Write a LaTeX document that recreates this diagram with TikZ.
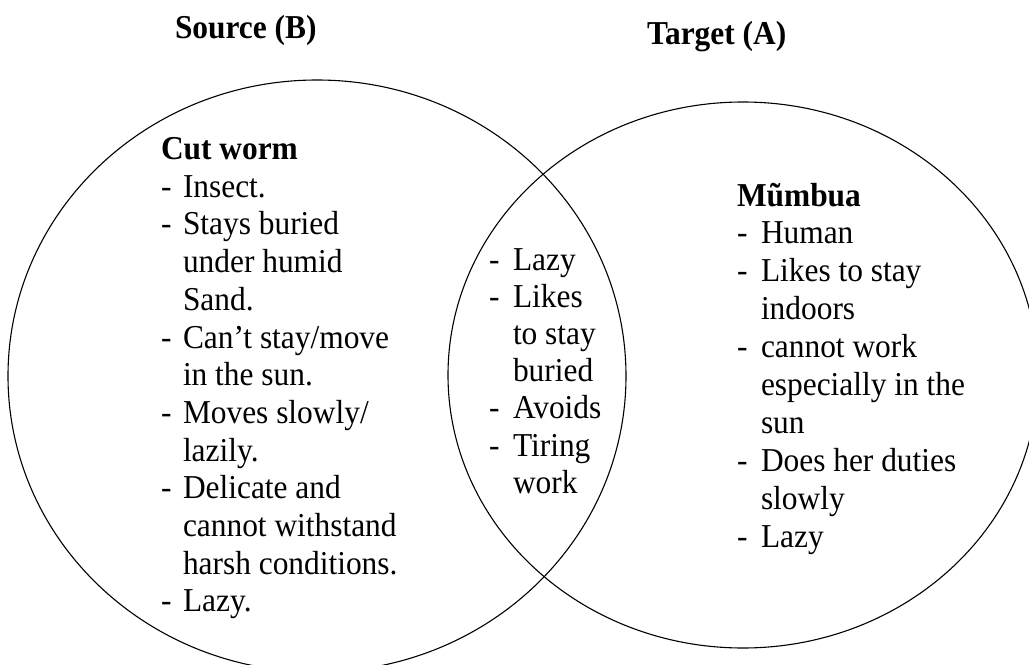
\documentclass[tikz,border=0pt]{standalone}
\usepackage{fontspec}
\setmainfont{Liberation Serif}[FakeStretch=0.94]
\newcommand\bodyfont{\fontsize{33.4bp}{37.8bp}\selectfont}
\begin{document}
\begin{tikzpicture}[x=1bp,y=-1bp,
  set/.style={draw=black, line width=1.1bp},
  txt/.style={anchor=base west, inner sep=0pt, outer sep=0pt, font=\bodyfont},
  head/.style={txt, font=\bodyfont\bfseries}]
\useasboundingbox (0,0) rectangle (1029,665);

% the two sets
\draw[set] (317,376) ellipse [x radius=309, y radius=296];
\draw[set] (743,375) ellipse [x radius=295, y radius=273];

% set titles
\node[head] (src) at (175,39) {Source (B)};
\node[head] (tgt) at (647,45) {Target (A)};

% left set: cut worm
\node[head] (cw0) at (161,159.5) {Cut worm};
\foreach \t [count=\i] in {Insect., Stays buried, under humid, Sand.,
    Can’t stay/move, in the sun., Moves slowly/, lazily., Delicate and,
    cannot withstand, harsh conditions., Lazy.}
  \node[txt] (cw\i) at (183,159.5+37.7*\i) {\t};
\foreach \i in {1,2,5,7,9,12}
  \node[txt] (cwd\i) at (161,159.5+37.7*\i) {-};

% overlap: shared traits
\foreach \t [count=\i from 0] in {Lazy, Likes, to stay, buried, Avoids, Tiring, work}
  \node[txt] (sh\i) at (513,270+37.2*\i) {\t};
\foreach \i in {0,1,4,5}
  \node[txt] (shd\i) at (489,270+37.2*\i) {-};

% right set: Mumbua
\node[head] (mb0) at (737,206) {Mũmbua};
\foreach \t [count=\i] in {Human, Likes to stay, indoors, cannot work,
    especially in the, sun, Does her duties, slowly, Lazy}
  \node[txt] (mb\i) at (761,206+37.9*\i) {\t};
\foreach \i in {1,2,4,7,9}
  \node[txt] (mbd\i) at (737,206+37.9*\i) {-};
\end{tikzpicture}
\end{document}
